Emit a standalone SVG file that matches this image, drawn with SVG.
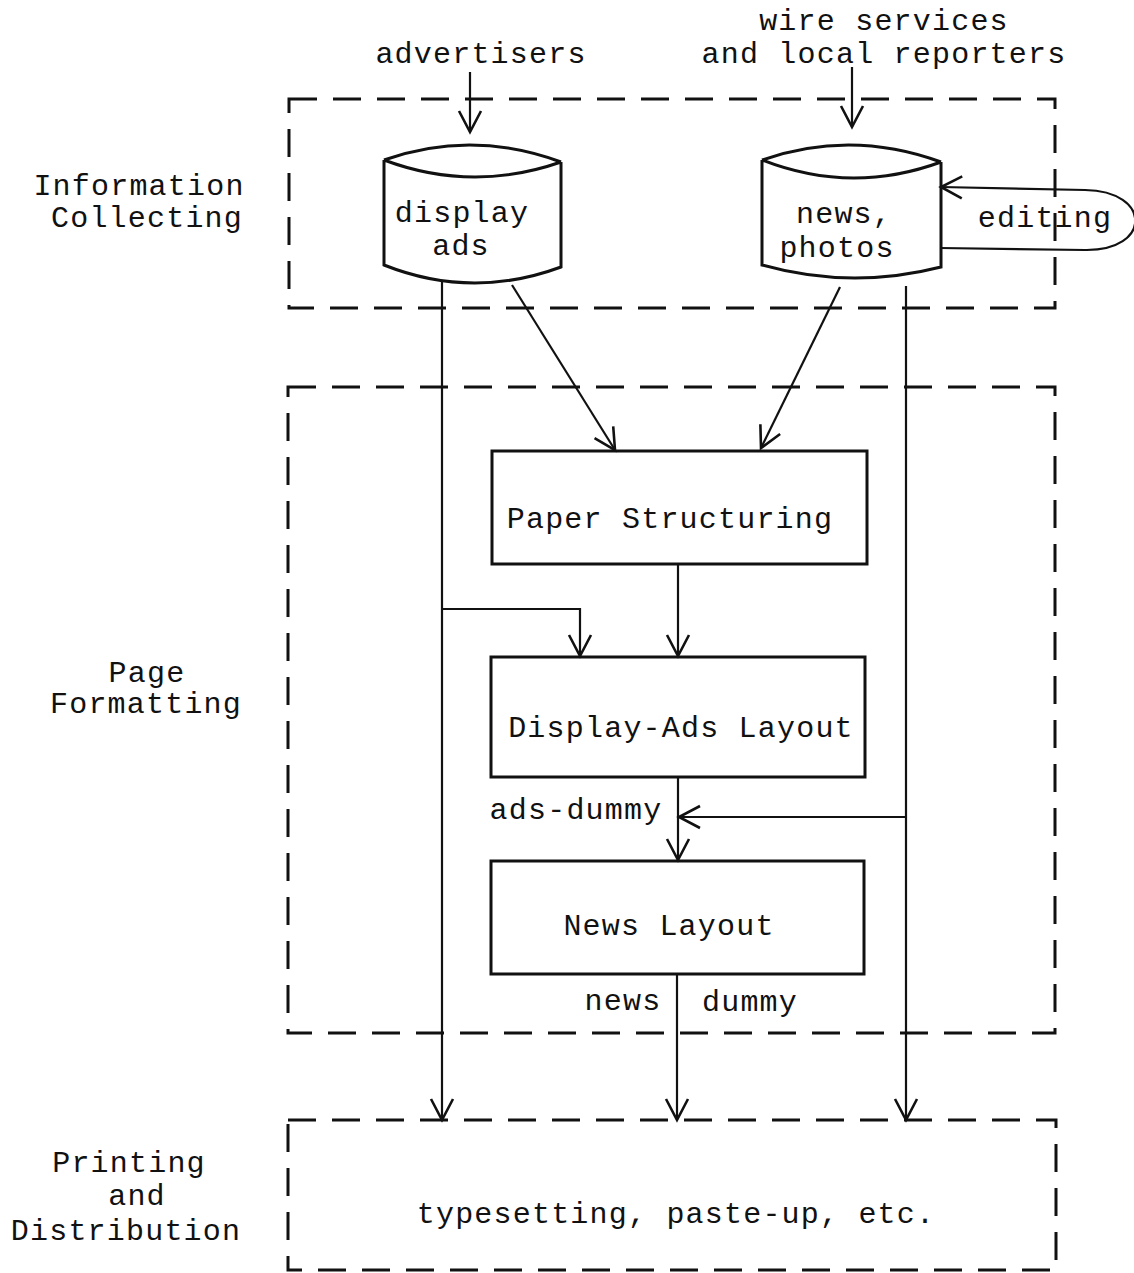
<svg xmlns="http://www.w3.org/2000/svg" width="1134" height="1273" viewBox="0 0 1134 1273">
<style>
text{font-family:"Liberation Mono","Courier New",monospace;font-size:30px;letter-spacing:1.2px;fill:#111;text-anchor:middle}
.dash{fill:none;stroke:#111;stroke-width:3;stroke-dasharray:28 16}
.box{fill:none;stroke:#111;stroke-width:3}
.cyl{fill:none;stroke:#111;stroke-width:3;stroke-linejoin:miter}
.ln{fill:none;stroke:#111;stroke-width:2.2}
</style>
<defs>
<marker id="ah" viewBox="-26 -15 30 30" refX="0" refY="0" markerWidth="30" markerHeight="30" orient="auto" markerUnits="userSpaceOnUse">
<path d="M-21,-11 L0,0 L-21,11" fill="none" stroke="#111" stroke-width="2.6"/>
</marker>
</defs>
<rect width="1134" height="1273" fill="#fff"/>

<g id="stage-collecting">
<rect class="dash" x="289" y="99" width="766" height="209"/>
<text x="139" y="195">Information</text>
<text x="147" y="227">Collecting</text>
</g>
<g id="stage-formatting">
<rect class="dash" x="288" y="387" width="767" height="646"/>
<text x="147" y="682">Page</text>
<text x="146" y="713">Formatting</text>
</g>
<g id="stage-printing">
<rect class="dash" x="288" y="1120" width="768" height="150"/>
<text x="129" y="1172">Printing</text>
<text x="137" y="1205">and</text>
<text x="126" y="1240">Distribution</text>
<text x="676" y="1223">typesetting, paste-up, etc.</text>
</g>

<g id="src-advertisers"><text x="481" y="63">advertisers</text></g>
<g id="src-wire">
<text x="884" y="30">wire services</text>
<text x="884" y="63">and local reporters</text>
</g>

<g id="display-ads">
<path class="cyl" d="M384,160 Q472,129 561,162 M384,160 Q472,193 561,162 M384,160 L384,265 Q472,300 561,267 L561,162"/>
<text x="462" y="222">display</text>
<text x="461" y="255">ads</text>
</g>
<g id="news-photos">
<path class="cyl" d="M762,160 Q851,129 941,162 M762,160 Q851,195 941,162 M762,160 L762,265 Q851,290 941,267 L941,162"/>
<text x="844" y="223">news,</text>
<text x="837" y="257">photos</text>
</g>

<g id="paper-structuring">
<rect class="box" x="492" y="451" width="375" height="113"/>
<text x="670" y="528">Paper Structuring</text>
</g>
<g id="display-ads-layout">
<rect class="box" x="491" y="657" width="374" height="120"/>
<text x="681" y="737">Display-Ads Layout</text>
</g>
<g id="news-layout">
<rect class="box" x="491" y="861" width="373" height="113"/>
<text x="669" y="935">News Layout</text>
</g>

<g id="connectors">
<path class="ln" d="M470,72 L470,132" marker-end="url(#ah)"/>
<path class="ln" d="M852,67 L852,127" marker-end="url(#ah)"/>
<path class="ln" d="M940,248 L1085,250 C1152,251 1152,191 1085,190 L941,187" marker-end="url(#ah)"/>
<text x="1045" y="227">editing</text>
<path class="ln" d="M512,285 L615,450" marker-end="url(#ah)"/>
<path class="ln" d="M840,287 L761,448" marker-end="url(#ah)"/>
<path class="ln" d="M442,281 L442,1120" marker-end="url(#ah)"/>
<path class="ln" d="M442,609 L580,609 L580,656" marker-end="url(#ah)"/>
<path class="ln" d="M678,565 L678,656" marker-end="url(#ah)"/>
<path class="ln" d="M678,777 L678,860" marker-end="url(#ah)"/>
<path class="ln" d="M906,286 L906,1120" marker-end="url(#ah)"/>
<path class="ln" d="M906,817 L679,817" marker-end="url(#ah)"/>
<text x="576" y="819">ads-dummy</text>
<path class="ln" d="M677,974 L677,1120" marker-end="url(#ah)"/>
<text x="623" y="1010">news</text>
<text x="750" y="1011">dummy</text>
</g>
</svg>
